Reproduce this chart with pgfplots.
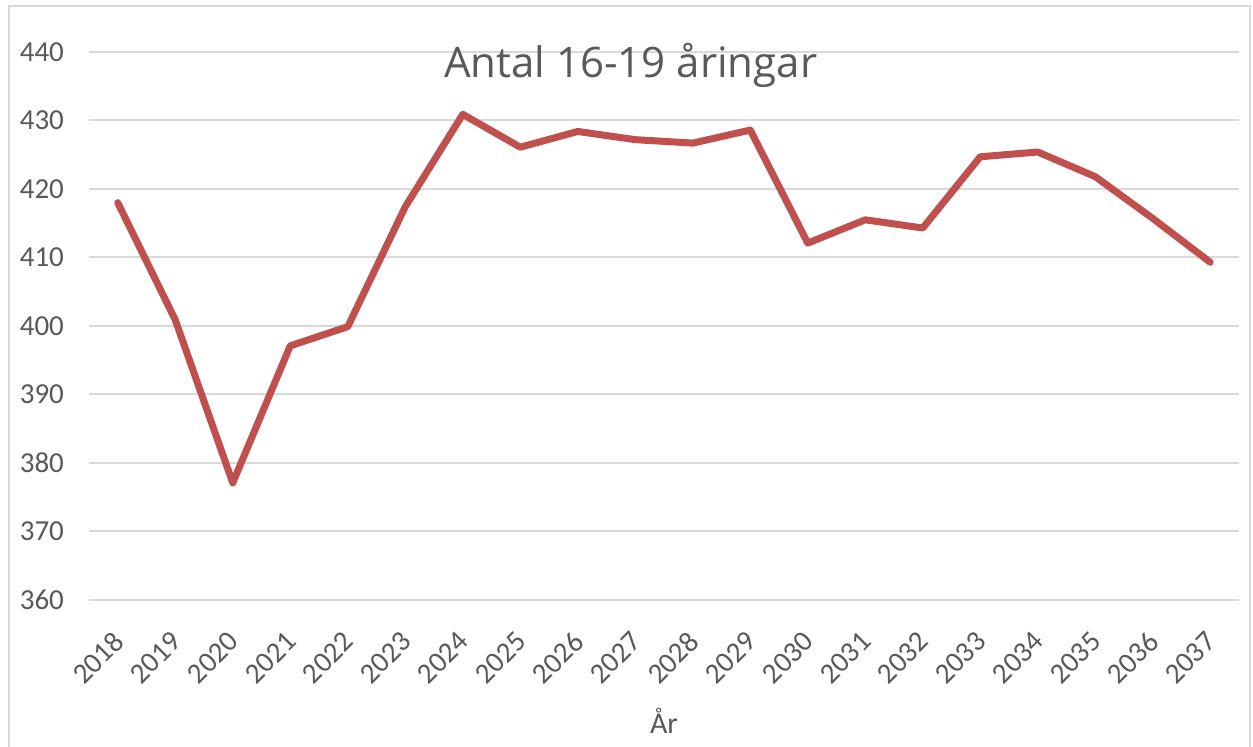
\documentclass[border=0pt]{standalone}
\usepackage{pgfplots}
\pgfplotsset{compat=1.18}
\usepackage{fontspec}
\setmainfont{Carlito}
\newfontfamily\titlefont{Open Sans}
\definecolor{txtc}{HTML}{595959}
\definecolor{gridc}{HTML}{D9D9D9}
\definecolor{linec}{HTML}{C0504D}
\begin{document}
\begin{tikzpicture}
\clip (0,0) rectangle (626.5pt,373.5pt);
\fill[white] (0,0) rectangle (626.5pt,373.5pt);
\draw[gridc, line width=1pt] (4.5pt,-5pt) rectangle (625pt,370.5pt);
\begin{axis}[
  at={(44.5pt,73.5pt)}, anchor=south west,
  scale only axis, width=575pt, height=274pt,
  xmin=2017.5, xmax=2037.5, ymin=360, ymax=440,
  xtick={2018,2019,...,2037},
  ytick={360,370,...,440},
  /pgf/number format/1000 sep={},
  /pgf/number format/assume math mode=true,
  axis line style={draw=none},
  major tick length=0pt,
  xmajorgrids=false, ymajorgrids=true,
  grid style={draw=gridc, line width=1pt},
  tick label style={font=\fontsize{14.5}{16}\selectfont, text=txtc},
  yticklabel style={xshift=-9pt},
  xticklabel style={yshift=-16pt, xshift=3pt, rotate=45, anchor=east},
  xlabel={År},
  xlabel style={font=\fontsize{15}{17}\selectfont, text=txtc, at={(axis description cs:0.5,-0.243)}, anchor=base},
  title={Antal 16-19 åringar},
  title style={font=\titlefont\fontsize{21}{24}\selectfont, text=txtc, at={(axis description cs:0.471,0.931)}, anchor=base},
]
\addplot[linec, line width=3.5pt, line join=round, line cap=round] coordinates {
(2018,418.0) (2019,400.9) (2020,377.1) (2021,397.1) (2022,399.9)
(2023,417.4) (2024,430.9) (2025,426.1) (2026,428.4) (2027,427.2)
(2028,426.7) (2029,428.6) (2030,412.1) (2031,415.5) (2032,414.3)
(2033,424.7) (2034,425.4) (2035,421.8) (2036,415.7) (2037,409.3)
};
\end{axis}
\end{tikzpicture}
\end{document}
